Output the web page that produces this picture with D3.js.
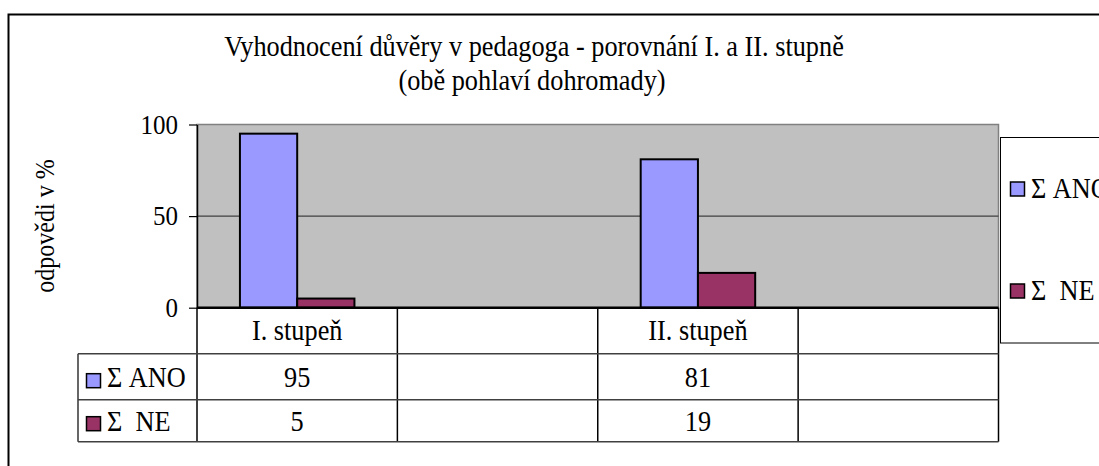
<!DOCTYPE html>
<html>
<head>
<meta charset="utf-8">
<script src="https://cdn.jsdelivr.net/npm/d3@7/dist/d3.min.js"></script>
<style>
  body { margin: 0; background: #fff; }
  svg text { font-family: "Liberation Serif", "Times New Roman", serif; fill: #000; }
</style>
</head>
<body>
<svg id="chart" width="1099" height="466"></svg>
<script>
'use strict';

const categories = ['I. stupeň', '', 'II. stupeň', ''];
const seriesNames = ['Σ ANO', 'Σ  NE'];
const anoValues = [95, null, 81, null];
const neValues  = [5, null, 19, null];
const yTicks = [0, 50, 100];
const colors = ['#9999ff', '#993366'];

const title1 = 'Vyhodnocení důvěry v pedagoga - porovnání I. a II. stupně';
const title2 = '(obě pohlaví dohromady)';
const yLabel = 'odpovědi v %';

const plotLeft = 197, plotRight = 998.5;
const plotTop = 124.5, plotBottom = 307.7;
const rowH = [46, 46, 42];   // header, ANO, NE
const tableLeft = 78;
const fontSize = 26.3;   // title + table
const tickFont = 25;
const labelFont = 24;
const stretch = 1.1;     // the original text is a bit taller than it is wide

const svg = d3.select('#chart');

// text with the slight vertical stretch of the original
let addText = function(x, y, str, size, anchor) {
    return svg.append('text')
        .attr('transform', 'translate(' + x + ',' + y + ') scale(1,' + stretch + ')')
        .attr('text-anchor', anchor || 'start')
        .style('font-size', size + 'px')
        .style('white-space', 'pre')
        .text(str);
};

// outer frame (runs past the window edge)
svg.append('rect')
    .attr('x', 8.5).attr('y', 14.5)
    .attr('width', 1200).attr('height', 600)
    .attr('fill', 'none').attr('stroke', '#000').attr('stroke-width', 2);

// scales
const idx = categories.map((d, i) => i);
const x0 = d3.scaleBand().domain(idx).range([plotLeft, plotRight]);
const x1 = d3.scaleBand().domain([0, 1]).range([0, x0.bandwidth()]).paddingOuter(0.75);
const y  = d3.scaleLinear().domain([0, 100]).range([plotBottom, plotTop]);

// plot background
svg.append('rect')
    .attr('x', plotLeft).attr('y', plotTop)
    .attr('width', plotRight - plotLeft).attr('height', plotBottom - plotTop)
    .attr('fill', '#c0c0c0').attr('stroke', '#808080').attr('stroke-width', 1.5);

// gridline
svg.selectAll('.grid')
    .data(yTicks.filter(t => t > 0 && t < 100))
    .enter().append('line')
    .attr('x1', plotLeft).attr('x2', plotRight)
    .attr('y1', d => y(d)).attr('y2', d => y(d))
    .attr('stroke', '#404040').attr('stroke-width', 1.2);

// bars
const seriesData = [anoValues, neValues];
seriesData.forEach(function(vals, s) {
    svg.selectAll('.bar' + s)
        .data(vals.map((v, i) => ({ i: i, v: v })).filter(d => d.v != null))
        .enter().append('rect')
        .attr('x', d => x0(d.i) + x1(s))
        .attr('y', d => y(d.v))
        .attr('width', x1.bandwidth())
        .attr('height', d => y(0) - y(d.v))
        .attr('fill', colors[s])
        .attr('stroke', '#000').attr('stroke-width', 2);
});

// y axis
const yAxis = svg.append('g')
    .attr('transform', 'translate(' + plotLeft + ',0)')
    .call(d3.axisLeft(y).tickValues(yTicks).tickSize(8).tickSizeOuter(0).tickPadding(11));
yAxis.select('.domain').attr('stroke', '#000').attr('stroke-width', 1.5);
yAxis.selectAll('.tick line').attr('stroke', '#000').attr('stroke-width', 1.2);
yAxis.selectAll('.tick text')
    .style('font-family', '"Liberation Serif", serif')
    .style('font-size', tickFont + 'px')
    .attr('dy', null)
    .attr('y', 0)
    .attr('transform', 'translate(0,8.5) scale(1,' + stretch + ')');

// data table
const tableTop = plotBottom;
const rowY = [tableTop, tableTop + rowH[0], tableTop + rowH[0] + rowH[1], tableTop + rowH[0] + rowH[1] + rowH[2]];
const colEdges = idx.map(i => x0(i)).concat([plotRight]);

svg.selectAll('.vline')
    .data(colEdges)
    .enter().append('line')
    .attr('x1', d => d).attr('x2', d => d)
    .attr('y1', rowY[0]).attr('y2', rowY[3])
    .attr('stroke', '#000').attr('stroke-width', 1.5);

svg.append('line')
    .attr('x1', tableLeft).attr('x2', tableLeft)
    .attr('y1', rowY[1]).attr('y2', rowY[3])
    .attr('stroke', '#000').attr('stroke-width', 1.2);

svg.selectAll('.hline')
    .data([rowY[1], rowY[2], rowY[3]])
    .enter().append('line')
    .attr('x1', tableLeft).attr('x2', plotRight)
    .attr('y1', d => d).attr('y2', d => d)
    .attr('stroke', '#404040').attr('stroke-width', 1.5);

// x axis line on top of table
svg.append('line')
    .attr('x1', plotLeft).attr('x2', plotRight)
    .attr('y1', plotBottom).attr('y2', plotBottom)
    .attr('stroke', '#000').attr('stroke-width', 2.5);

// header labels
categories.forEach(function(c, i) {
    if (c) addText(x0(i) + x0.bandwidth() / 2, rowY[0] + 32, c, fontSize, 'middle');
});

// value cells + legend keys in the table
seriesData.forEach(function(vals, s) {
    let base = rowY[s + 1] + (s == 0 ? 33 : 31);
    vals.forEach(function(v, i) {
        if (v != null) addText(x0(i) + x0.bandwidth() / 2, base, String(v), fontSize, 'middle');
    });
    svg.append('rect')
        .attr('x', 86.5).attr('y', rowY[s + 1] + (s == 0 ? 20 : 17))
        .attr('width', 14).attr('height', 14)
        .attr('fill', colors[s]).attr('stroke', '#000').attr('stroke-width', 1.5);
    addText(107, base, seriesNames[s], fontSize);
});

// legend box (Excel clips it at the chart edge)
svg.append('rect')
    .attr('x', 1000.5).attr('y', 137.5)
    .attr('width', 200).attr('height', 205.5)
    .attr('fill', '#fff').attr('stroke', '#000').attr('stroke-width', 1);
const legendY = [189, 291];
seriesNames.forEach(function(name, s) {
    svg.append('rect')
        .attr('x', 1010.5).attr('y', legendY[s] - 7)
        .attr('width', 14).attr('height', 14)
        .attr('fill', colors[s]).attr('stroke', '#000').attr('stroke-width', 1.5);
    addText(1031, legendY[s] + 9, name, fontSize);
});

// titles
addText(534, 56, title1, fontSize, 'middle');
addText(532, 90, title2, fontSize, 'middle');

svg.append('text')
    .attr('transform', 'translate(54,226) rotate(-90) scale(1,' + stretch + ')')
    .attr('text-anchor', 'middle')
    .style('font-size', labelFont + 'px')
    .text(yLabel);
</script>
</body>
</html>
